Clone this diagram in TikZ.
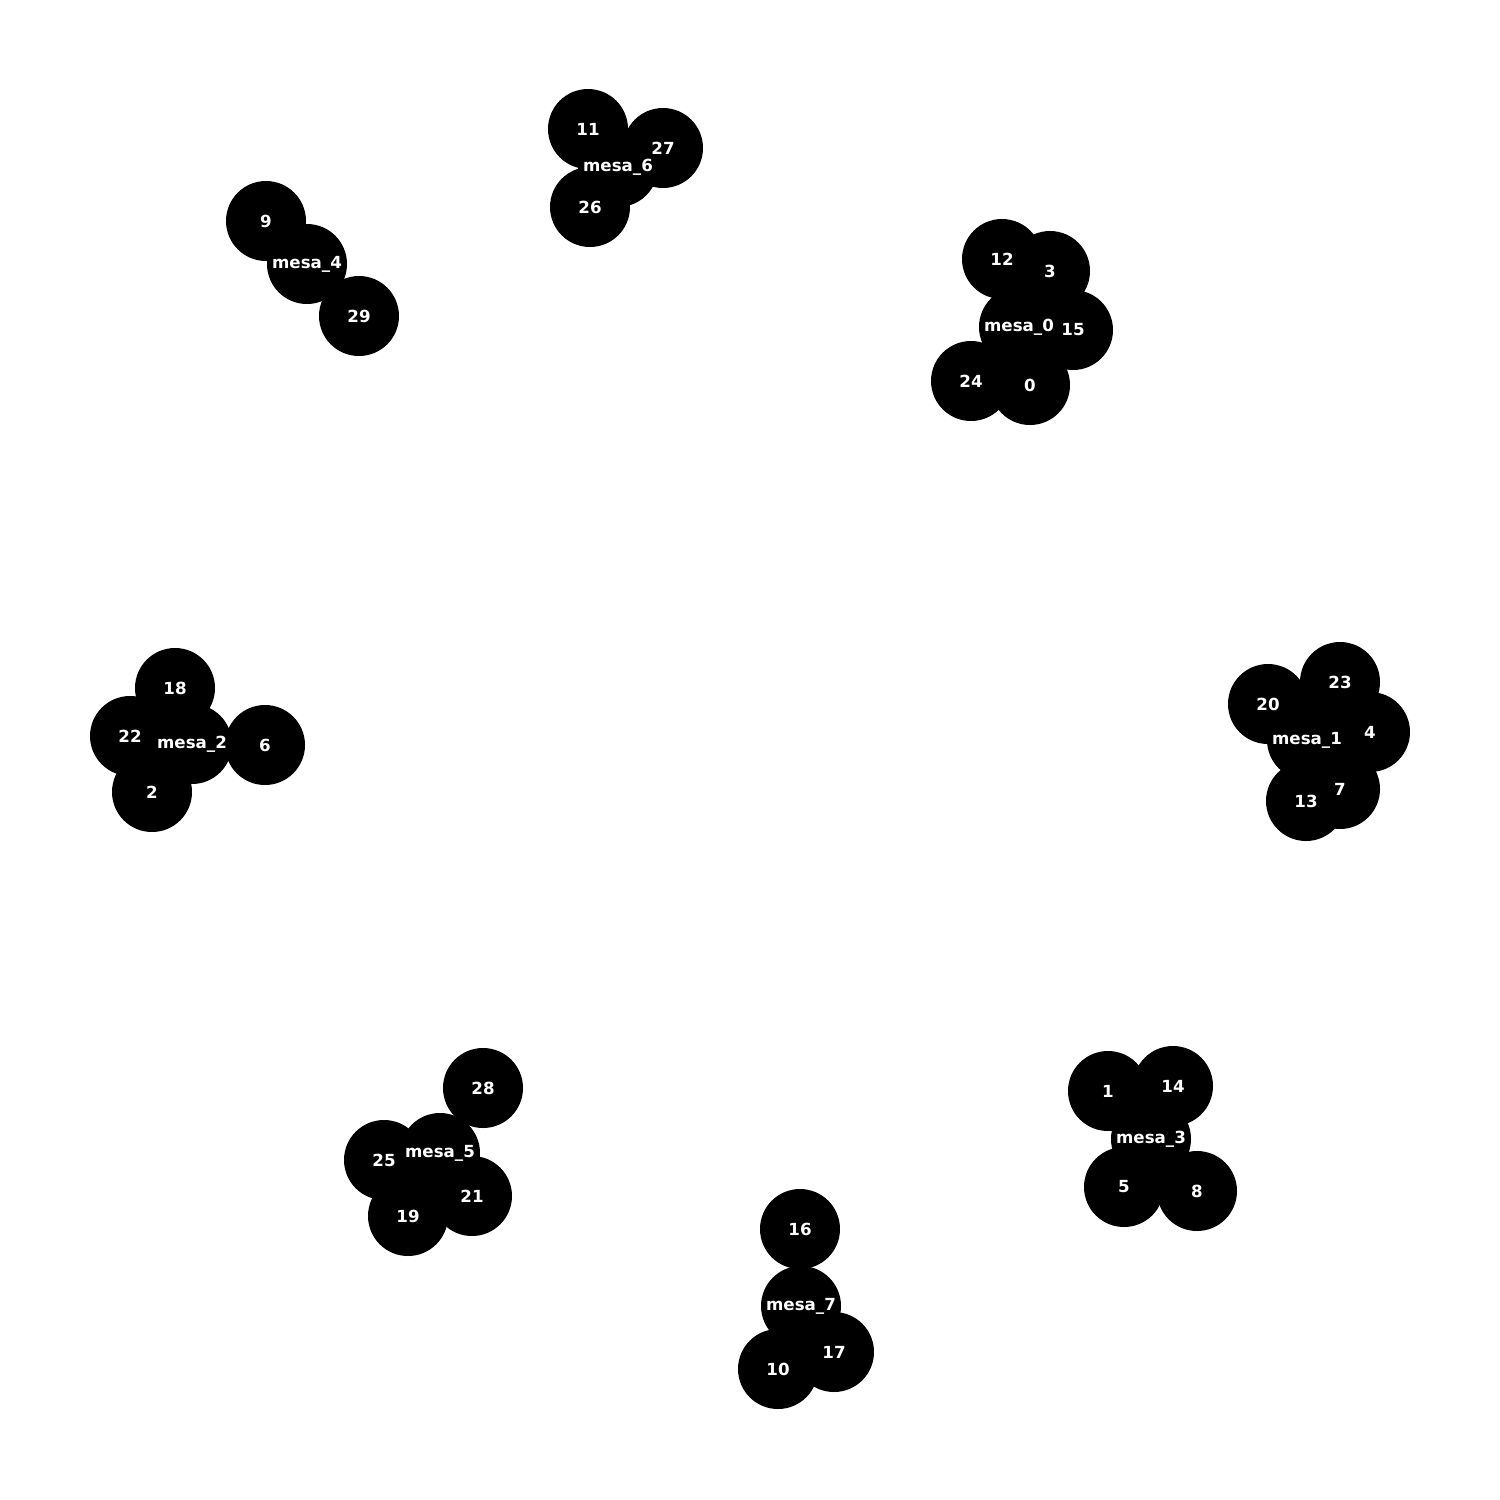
\documentclass[tikz,border=0pt]{standalone}
\usepackage{fontspec}
\setmainfont{DejaVu Sans}
\begin{document}
\begin{tikzpicture}[x=0.72pt,y=-0.72pt,
  dot/.style={circle,fill=black,draw=none,minimum size=57.6pt,inner sep=0pt},
  lbl/.style={text=white,font=\fontsize{12pt}{14pt}\selectfont\bfseries,inner sep=0pt}]
\useasboundingbox (0,0) rectangle (1500,1500);
\foreach \n/\x/\y in {m0/1019/327, 12/1002/259, 3/1050/271, 15/1073/330, 24/971/381, 0/1030/385,
  m1/1307/740, 20/1268/704, 23/1340/682, 4/1370/732, 7/1340/789, 13/1306/801,
  m2/192/744, 18/175/688, 22/130/736, 2/152/792, 6/265/745,
  m3/1151/1139, 1/1108/1091, 14/1173/1086, 5/1124/1187, 8/1197/1191,
  m4/307/264, 9/266/221, 29/359/316,
  m5/440/1153, 28/483/1088, 25/384/1160, 19/408/1216, 21/472/1196,
  m6/618/167, 11/588/129, 27/663/148, 26/590/207,
  m7/801/1306, 16/800/1229, 17/834/1352, 10/778/1369}
  {\node[dot] (n\n) at (\x,\y) {};}
\foreach \n/\t in {m0/mesa\_0,12/12,3/3,15/15,24/24,0/0,m1/mesa\_1,20/20,23/23,4/4,7/7,13/13,m2/mesa\_2,18/18,22/22,2/2,6/6,m3/mesa\_3,1/1,14/14,5/5,8/8,m4/mesa\_4,9/9,29/29,m5/mesa\_5,28/28,25/25,19/19,21/21,m6/mesa\_6,11/11,27/27,26/26,m7/mesa\_7,16/16,17/17,10/10}
  {\node[lbl] at (n\n) {\t};}
\end{tikzpicture}
\end{document}
